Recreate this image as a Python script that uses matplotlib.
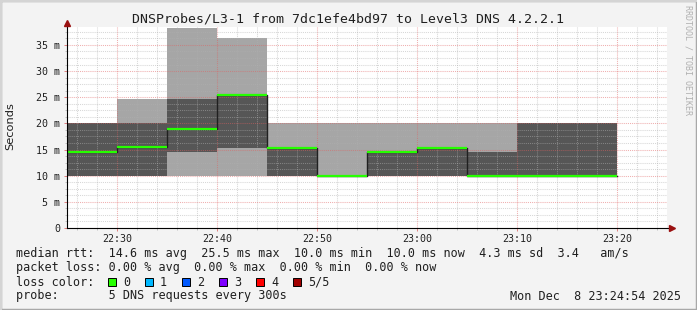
import numpy as np
import matplotlib
matplotlib.use("Agg")
import matplotlib.pyplot as plt
from matplotlib.patches import Rectangle
from matplotlib.ticker import MultipleLocator, FixedLocator

# 5-minute intervals (start times) and the 5 sorted ping rtts per interval (ms)
slot_start = ["22:25", "22:30", "22:35", "22:40", "22:45", "22:50",
              "22:55", "23:00", "23:05", "23:10", "23:15"]
ping1 = [10.0, 10.0, 10.0, 10.0, 10.0, 10.0, 10.0, 10.0, 10.0, 10.0, 10.0]
ping2 = [10.0, 10.0, 14.6, 15.3, 10.0, 10.0, 10.0, 10.0, 10.0, 10.0, 10.0]
median = [14.6, 15.4, 19.0, 25.5, 15.3, 10.0, 14.5, 15.3, 10.0, 10.0, 10.0]
ping4 = [20.0, 20.0, 24.6, 25.5, 15.3, 10.0, 14.6, 15.3, 14.6, 20.0, 20.0]
ping5 = [20.0, 24.6, 38.3, 36.4, 20.0, 20.0, 20.0, 20.0, 20.0, 20.0, 20.0]

xtick_labels = ["22:30", "22:40", "22:50", "23:00", "23:10", "23:20"]
ytick_vals = [0, 5, 10, 15, 20, 25, 30, 35]

loss_labels = ["0", "1", "2", "3", "4", "5/5"]
loss_colors = ["#26ff00", "#00b8ff", "#0059ff", "#7e00ff", "#ff0000", "#a10000"]

title = "DNSProbes/L3-1 from 7dc1efe4bd97 to Level3 DNS 4.2.2.1"
row_rtt = "median rtt:  14.6 ms avg  25.5 ms max  10.0 ms min  10.0 ms now  4.3 ms sd  3.4   am/s"
row_loss = "packet loss: 0.00 % avg  0.00 % max  0.00 % min  0.00 % now"
row_color = "loss color:"
row_probe = "probe:       5 DNS requests every 300s"
stamp = "Mon Dec  8 23:24:54 2025"

LIGHT = "#a6a6a6"
DARK = "#565656"
MONO = "DejaVu Sans Mono"
W, H = 697, 310


def to_min(s):
    h, m = s.split(":")
    return (int(h) - 22) * 60 + int(m)


def fx(px):
    return px / W


def fy(py):
    return 1 - py / H


fig = plt.figure(figsize=(W / 100, H / 100), dpi=100, facecolor="#f3f3f3")
# frame
fig.add_artist(Rectangle((0, 0), 1, 1, transform=fig.transFigure, fill=False,
                         edgecolor="#a8a8a8", lw=2.5))
fig.add_artist(Rectangle((0, fy(2)), 1, 2 / H, transform=fig.transFigure, color="#d4d4d4", lw=0))
fig.add_artist(Rectangle((0, 0), 2 / W, 1, transform=fig.transFigure, color="#d4d4d4", lw=0))

ax = fig.add_axes([fx(67), fy(228), 600 / W, 201 / H])
ax.set_facecolor("white")

x = np.array([to_min(s) for s in slot_start] + [to_min(slot_start[-1]) + 5])
def ext(v):
    return np.r_[v, v[-1]]

p1, p2, p3, p4, p5 = (np.array(a) for a in (ping1, ping2, median, ping4, ping5))
ax.fill_between(x, ext(p1), ext(p2), step="post", color=LIGHT, lw=0, zorder=1)
ax.fill_between(x, ext(p2), ext(p4), step="post", color=DARK, lw=0, zorder=1)
ax.fill_between(x, ext(p4), ext(p5), step="post", color=LIGHT, lw=0, zorder=1)

ax.step(x, ext(p3), where="post", color="#202020", lw=1.0, zorder=3)
ax.hlines(p3, x[:-1], x[1:], color=loss_colors[0], lw=1.6, zorder=4)

ax.set_xlim(25, 85)
ax.set_ylim(0, 201 / 5.23)

ax.xaxis.set_major_locator(FixedLocator([to_min(s) for s in xtick_labels]))
ax.set_xticklabels(xtick_labels)
ax.xaxis.set_minor_locator(MultipleLocator(2))
ax.yaxis.set_major_locator(FixedLocator(ytick_vals))
ax.set_yticklabels([("%d m" % v) if v else "0" for v in ytick_vals])
ax.yaxis.set_minor_locator(MultipleLocator(1.25))

ax.set_axisbelow(False)
ax.grid(which="major", color="#e06060", alpha=0.5, lw=0.75, ls=(0, (1, 1)))
ax.grid(which="minor", color="#b0b0b0", alpha=0.5, lw=0.75, ls=(0, (1, 1)))

for s in ax.spines.values():
    s.set_visible(False)
ax.tick_params(which="major", axis="x", length=2.5, width=0.7, color="#e08080",
               pad=1.5, labelsize=7.2, labelfontfamily=MONO, labelcolor="#202020")
ax.tick_params(which="major", axis="y", length=2.5, width=0.7, color="#e08080",
               pad=2.5, labelsize=7.2, labelfontfamily=MONO, labelcolor="#202020")
ax.tick_params(which="minor", length=1.5, width=0.7, color="#c0c0c0")

# axes with arrows
top = (228 - 23) / 201
right = (672 - 67) / 600
ax.plot([0, 0], [0, top], transform=ax.transAxes, clip_on=False, color="black", lw=0.8, zorder=5)
ax.plot([0, right], [0, 0], transform=ax.transAxes, clip_on=False, color="black", lw=0.8, zorder=5)
ax.plot([0], [top], marker="^", ms=5, color="#9a1010", transform=ax.transAxes, clip_on=False, zorder=6)
ax.plot([right], [0], marker=">", ms=5, color="#9a1010", transform=ax.transAxes, clip_on=False, zorder=6)

fig.text(fx(348.5), fy(19), title, family=MONO, fontsize=9.5, ha="center", va="center", color="#202020")
fig.text(fx(10), fy(126), "Seconds", fontsize=8.2, rotation=90, ha="center", va="center", color="#202020")
fig.text(fx(688), fy(5), "RRDTOOL / TOBI OETIKER", family=MONO, fontsize=6, rotation=270,
         ha="center", va="top", color="#b0b0b0")

rows = [(row_rtt, 254), (row_loss, 268), (row_color, 282), (row_probe, 296)]
for txt, yy in rows:
    fig.text(fx(16), fy(yy), txt, family=MONO, fontsize=8.5, ha="left", va="center", color="#202020")
fig.text(fx(681), fy(296), stamp, family=MONO, fontsize=8.5, ha="right", va="center", color="#202020")

for i, (lab, col) in enumerate(zip(loss_labels, loss_colors)):
    bx = 108 + 37 * i
    fig.add_artist(Rectangle((fx(bx), fy(286)), 8 / W, 8 / H, transform=fig.transFigure,
                             facecolor=col, edgecolor="black", lw=0.7))
    fig.text(fx(bx + 15), fy(282), lab, family=MONO, fontsize=8.5, ha="left", va="center", color="#202020")

fig.savefig("out.png", dpi=100, facecolor=fig.get_facecolor())
